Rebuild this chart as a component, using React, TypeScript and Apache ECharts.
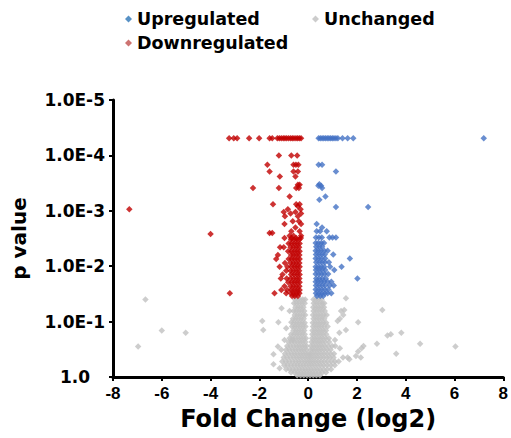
import React, { useEffect, useRef } from "react";
import * as echarts from "echarts";

// y values are -log10(p); tick labels show the p value
const yTickLabels = ["1.0", "1.0E-1", "1.0E-2", "1.0E-3", "1.0E-4", "1.0E-5"];
const xTickMin = -8;
const xTickMax = 8;

// rows: [negLog10P, fold changes (log2)]
const downregulatedRows: [number, number[]][] = [
  [4.31, [-3.24, -3.05, -2.91, -2.42, -2.01, -1.58, -1.47, -1.26, -1.18, -1.1, -1.02, -0.95, -0.88, -0.8, -0.72, -0.65, -0.58, -0.5, -0.43, -0.36, -0.29]],
  [4.0, [-1.2, -0.69, -0.45]],
  [3.83, [-1.67, -0.6, -0.5, -0.4]],
  [3.71, [-1.58, -0.6, -0.42]],
  [3.62, [-1.16, -0.52]],
  [3.47, [-0.42, -0.35]],
  [3.41, [-2.26, -1.2, -0.49, -0.38]],
  [3.26, [-0.76]],
  [3.12, [-1.44, -0.49, -0.35]],
  [3.08, [-0.42]],
  [3.03, [-7.33, -0.83, -0.31]],
  [2.98, [-1.0, -0.52]],
  [2.95, [-0.72, -0.29]],
  [2.9, [-0.95, -0.42]],
  [2.81, [-0.63, -0.38]],
  [2.76, [-0.97, -0.29]],
  [2.7, [-0.52]],
  [2.63, [-0.69, -0.35]],
  [2.6, [-1.58, -1.47]],
  [2.58, [-4.0]],
  [2.55, [-0.76, -0.6, -0.29]],
  [2.51, [-0.97, -0.69, -0.49, -0.3]],
  [2.48, [-0.36, -0.47, -0.58, -0.7]],
  [2.41, [-0.35, -0.46, -0.57, -0.68, -0.8]],
  [2.34, [-0.37, -0.48, -0.6, -0.72, -1.0, -1.15]],
  [2.27, [-0.35, -0.46, -0.57, -0.69, -0.82]],
  [2.2, [-0.36, -0.47, -0.59, -0.7, -1.24]],
  [2.13, [-0.35, -0.46, -0.57, -0.68, -0.8, -1.31]],
  [2.06, [-0.36, -0.48, -0.6, -0.72, -0.95]],
  [1.99, [-0.35, -0.46, -0.57, -0.69, -0.85, -1.17]],
  [1.92, [-0.37, -0.48, -0.6, -0.72, -0.9]],
  [1.85, [-0.35, -0.46, -0.58, -0.7, -1.05]],
  [1.78, [-0.36, -0.47, -0.59, -0.72, -0.88, -1.12]],
  [1.71, [-0.35, -0.46, -0.57, -0.68, -0.82]],
  [1.64, [-0.36, -0.48, -0.6, -0.72, -0.97]],
  [1.57, [-0.35, -0.46, -0.58, -0.7, -0.86, -1.1]],
  [1.51, [-0.36, -0.47, -0.59, -0.71, -0.9, -1.38, -3.21]],
  [1.46, [-0.42, -0.55, -0.66]],
];

const upregulatedRows: [number, number[]][] = [
  [4.31, [0.43, 0.5, 0.57, 0.64, 0.71, 0.78, 0.85, 0.92, 0.99, 1.06, 1.14, 1.22, 1.41, 1.62, 1.85, 7.2]],
  [3.83, [0.43, 0.57]],
  [3.71, [1.14]],
  [3.48, [0.46]],
  [3.45, [0.42, 0.53]],
  [3.41, [0.57]],
  [3.26, [0.71]],
  [3.2, [0.46]],
  [3.07, [1.14, 2.46]],
  [2.76, [0.35]],
  [2.7, [0.57]],
  [2.63, [0.35, 0.49, 0.76]],
  [2.52, [0.32, 0.44, 0.56, 0.87, 1.0, 1.14]],
  [2.42, [0.31, 0.42, 0.54, 0.65]],
  [2.35, [0.33, 0.45, 0.57]],
  [2.28, [0.31, 0.42, 0.53, 0.66, 0.8]],
  [2.21, [0.32, 0.44, 0.56, 0.68, 1.03]],
  [2.14, [0.31, 0.43, 0.55, 0.7, 1.71]],
  [2.07, [0.33, 0.45, 0.57, 0.69, 0.85]],
  [1.99, [0.31, 0.42, 0.54, 0.66, 0.9, 1.37]],
  [1.93, [0.32, 0.44, 0.56, 0.7, 1.07]],
  [1.86, [0.31, 0.43, 0.55, 0.67, 0.82]],
  [1.78, [0.33, 0.45, 0.58, 0.72, 2.02]],
  [1.72, [0.31, 0.42, 0.54, 0.66, 0.8, 0.95]],
  [1.65, [0.32, 0.44, 0.57, 0.7, 0.88, 1.05]],
  [1.58, [0.31, 0.43, 0.55, 0.68, 0.83]],
  [1.51, [0.32, 0.44, 0.56, 0.69, 0.8, 0.95]],
  [1.46, [0.36, 0.5, 0.62]],
];

const unchangedRows: [number, number[]][] = [
  [1.42, [1.55]],
  [1.4, [-6.67, -0.54, -0.43, -0.32, -0.22, -0.12, 0.22, 0.33, 0.44, 0.55]],
  [1.33, [-0.58, -0.47, -0.36, -0.25, -0.14, 0.23, 0.34, 0.45, 0.57, 0.66]],
  [1.26, [-0.52, -0.41, -0.3, -0.19, 0.21, 0.32, 0.43, 0.54, 0.65]],
  [1.24, [-1.09]],
  [1.21, [3.04, 1.48]],
  [1.19, [-0.76, -0.6, -0.49, -0.38, -0.27, -0.16, 0.22, 0.33, 0.44, 0.56, 0.68, 1.35]],
  [1.12, [-0.55, -0.44, -0.33, -0.22, -0.12, 0.2, 0.31, 0.42, 0.53, 0.64, 0.76, 1.44]],
  [1.05, [-0.62, -0.51, -0.4, -0.29, -0.18, 0.22, 0.33, 0.44, 0.55, 0.66, 1.3]],
  [1.01, [-1.88, 1.21]],
  [0.99, [-1.22, -0.69, 2.05]],
  [0.98, [-0.58, -0.47, -0.36, -0.25, -0.14, 0.19, 0.3, 0.41, 0.52, 0.63, 0.74]],
  [0.91, [-0.66, -0.55, -0.44, -0.33, -0.22, -0.11, 0.2, 0.31, 0.42, 0.53, 0.65, 0.8]],
  [0.88, [-0.9]],
  [0.85, [-1.84, 1.55]],
  [0.84, [-6.0, -0.6, -0.49, -0.38, -0.27, -0.16, 0.18, 0.29, 0.4, 0.51, 0.62, 0.73]],
  [0.8, [-5.02, 1.28, 3.82]],
  [0.77, [-0.7, -0.58, -0.47, -0.36, -0.25, -0.14, 0.17, 0.28, 0.39, 0.5, 0.61, 0.74, 3.39]],
  [0.75, [3.25]],
  [0.7, [-0.76, -0.64, -0.52, -0.41, -0.3, -0.19, -0.09, 0.16, 0.27, 0.38, 0.49, 0.6, 0.72, 0.85]],
  [0.67, [-0.97, -0.63, 1.1]],
  [0.63, [-0.8, -0.68, -0.56, -0.44, -0.33, -0.22, -0.11, 0.14, 0.25, 0.36, 0.47, 0.58, 0.7, 0.86]],
  [0.6, [2.82, 4.59]],
  [0.56, [-0.86, -0.73, -0.6, -0.48, -0.37, -0.26, -0.15, -0.06, 0.12, 0.23, 0.34, 0.45, 0.56, 0.68, 0.82, 0.98, 1.11, 2.27]],
  [0.55, [-6.97, -1.24, 6.04]],
  [0.52, [1.3, 2.19]],
  [0.49, [-1.1, -0.9, -0.77, -0.64, -0.52, -0.4, -0.29, -0.18, -0.07, 0.1, 0.2, 0.31, 0.42, 0.53, 0.65, 0.78, 0.92]],
  [0.46, [2.05]],
  [0.42, [-0.95, -0.81, -0.68, -0.56, -0.44, -0.32, -0.21, -0.1, 0.0, 0.09, 0.19, 0.3, 0.41, 0.53, 0.65, 0.78, 0.92, 1.06, 3.61]],
  [0.41, [-1.42]],
  [0.38, [1.96]],
  [0.35, [-1.0, -0.86, -0.72, -0.59, -0.47, -0.35, -0.24, -0.13, -0.02, 0.08, 0.18, 0.29, 0.4, 0.52, 0.64, 0.77, 0.9, 1.04, 1.43, 1.62, 2.16]],
  [0.32, [1.69]],
  [0.28, [-1.06, -0.91, -0.77, -0.63, -0.5, -0.38, -0.26, -0.14, -0.03, 0.07, 0.18, 0.29, 0.41, 0.53, 0.66, 0.8, 0.95, 1.1, 1.25]],
  [0.23, [-1.42]],
  [0.21, [-0.98, -0.84, -0.7, -0.57, -0.44, -0.32, -0.2, -0.08, 0.04, 0.15, 0.27, 0.39, 0.51, 0.64, 0.78, 0.93, 1.09]],
  [0.16, [-1.17]],
  [0.14, [-0.9, -0.76, -0.62, -0.49, -0.36, -0.24, -0.12, 0.0, 0.12, 0.24, 0.36, 0.49, 0.63, 0.78, 0.94]],
  [0.08, [-0.7, -0.56, -0.43, -0.3, -0.17, -0.05, 0.07, 0.19, 0.31, 0.44, 0.58, 0.73]],
  [0.03, [-0.45, -0.31, -0.18, -0.05, 0.08, 0.21, 0.34, 0.48]],
];

function toPoints(rows: [number, number[]][]): number[][] {
  const pts: number[][] = [];
  rows.forEach(([y, xs]) => xs.forEach((x) => pts.push([x, y])));
  return pts;
}

export default function App() {
  const ref = useRef<HTMLDivElement>(null);
  useEffect(() => {
    const chart = echarts.init(ref.current!, null, { renderer: "svg" });
    const legendText = {
      fontFamily: "DejaVu Sans",
      fontWeight: "bold",
      fontSize: 17.5,
      color: "#000",
    };
    const legendCommon = {
      icon: "diamond",
      itemWidth: 7,
      itemHeight: 7,
      selectedMode: false,
      padding: 0,
      textStyle: legendText,
    };
    const axisFont = { fontWeight: "bold", color: "#000" };
    chart.setOption({
      animation: false,
      legend: [
        { ...legendCommon, left: 125, top: 10, data: [{ name: "Upregulated", itemStyle: { color: "#2E75B6" } }] },
        { ...legendCommon, left: 312, top: 10, data: [{ name: "Unchanged", itemStyle: { color: "#BFBFBF" } }] },
        { ...legendCommon, left: 125, top: 34, data: [{ name: "Downregulated", itemStyle: { color: "#C0504D" } }] },
      ],
      grid: { left: 113, right: 6, top: 100, bottom: 61 },
      xAxis: {
        type: "value",
        min: xTickMin,
        max: xTickMax,
        interval: 2,
        splitLine: { show: false },
        axisLine: { lineStyle: { color: "#000", width: 3 } },
        axisTick: { length: 4, lineStyle: { color: "#000", width: 2 } },
        axisLabel: { ...axisFont, fontFamily: "Liberation Sans", fontSize: 17, margin: 8 },
        name: "Fold Change (log2)",
        nameLocation: "middle",
        nameGap: 26,
        nameTextStyle: { ...axisFont, fontFamily: "DejaVu Sans", fontSize: 24 },
      },
      yAxis: {
        type: "value",
        min: 0,
        max: 5,
        interval: 1,
        splitLine: { show: false },
        axisLine: { onZero: false, lineStyle: { color: "#000", width: 3 } },
        axisTick: { length: 4, lineStyle: { color: "#000", width: 2 } },
        axisLabel: {
          ...axisFont,
          fontFamily: "DejaVu Sans",
          fontSize: 17,
          margin: 8,
          formatter: (v: number) => (v === 0 ? "{z|" + yTickLabels[0] + "}" : yTickLabels[Math.round(v)]),
          rich: {
            z: { ...axisFont, fontFamily: "DejaVu Sans", fontSize: 17, padding: [0, 15, 0, 0] },
          },
        },
        name: "p value",
        nameLocation: "middle",
        nameRotate: 90,
        nameGap: 84,
        nameTextStyle: { ...axisFont, fontFamily: "DejaVu Sans", fontSize: 20 },
      },
      series: [
        {
          name: "Unchanged",
          type: "scatter",
          symbol: "diamond",
          symbolSize: 6.5,
          itemStyle: { color: "#C0C0C0" },
          data: toPoints(unchangedRows),
        },
        {
          name: "Downregulated",
          type: "scatter",
          symbol: "diamond",
          symbolSize: 6.5,
          itemStyle: { color: "#C00000" },
          data: toPoints(downregulatedRows),
        },
        {
          name: "Upregulated",
          type: "scatter",
          symbol: "diamond",
          symbolSize: 6.5,
          itemStyle: { color: "#4472C4" },
          data: toPoints(upregulatedRows),
        },
      ],
    });
    return () => chart.dispose();
  }, []);
  return (
    <div
      ref={ref}
      style={{ position: "absolute", left: 0, top: 0, width: 511, height: 438 }}
    />
  );
}
